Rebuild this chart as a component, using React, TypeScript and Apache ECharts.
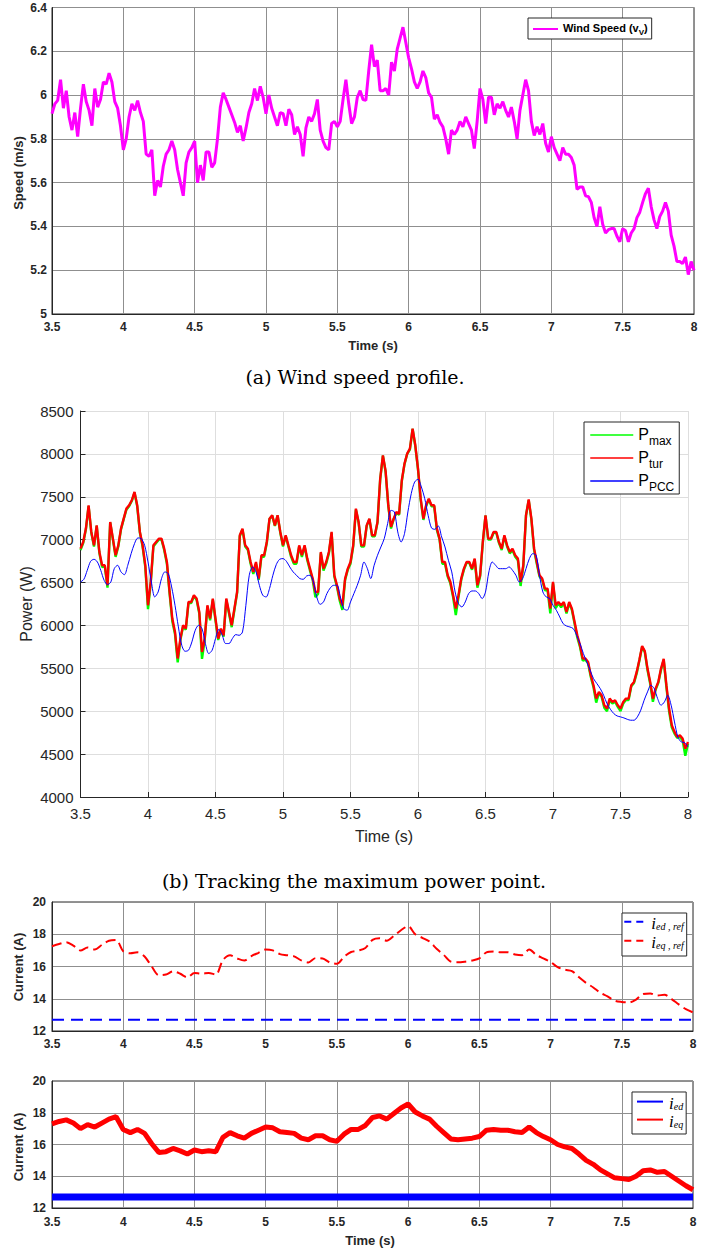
import React, { useEffect, useRef } from "react";
import * as echarts from "echarts";

const SANS = "'Liberation Sans', Arial, Helvetica, sans-serif";
const SERIF_CAP = "'DejaVu Serif', serif";
const SERIF_I = "'Liberation Serif', 'Times New Roman', serif";
const DARK = "#262626";

// ---------- data ----------
// wind speed, one sample every 0.02 s from 3.5 s
const windSpeed = [
  5.915, 5.96, 5.976, 6.07, 5.94, 6.02, 5.9, 5.84, 5.92, 5.81,
  5.94, 6.05, 5.97, 5.93, 5.86, 6.03, 5.945, 5.98, 6.06, 6.05,
  6.1, 6.06, 5.97, 5.94, 5.86, 5.75, 5.8, 5.9, 5.96, 5.93,
  5.975, 5.92, 5.88, 5.73, 5.72, 5.75, 5.54, 5.61, 5.58, 5.675,
  5.73, 5.75, 5.79, 5.75, 5.66, 5.6, 5.54, 5.69, 5.74, 5.76,
  5.79, 5.6, 5.68, 5.61, 5.74, 5.74, 5.67, 5.69, 5.8, 5.945,
  6.01, 5.98, 5.945, 5.91, 5.875, 5.83, 5.86, 5.79, 5.85, 5.92,
  5.96, 6.03, 5.975, 6.04, 5.99, 5.915, 6.0, 5.94, 5.9, 5.86,
  5.92, 5.915, 5.86, 5.935, 5.91, 5.82, 5.855, 5.82, 5.72, 5.85,
  5.9, 5.88, 5.915, 5.98, 5.84, 5.79, 5.76, 5.75, 5.87, 5.88,
  5.855, 5.88, 5.98, 6.07, 5.96, 5.87, 5.9, 5.99, 6.02, 5.98,
  5.976, 6.11, 6.23, 6.13, 6.16, 6.02, 6.02, 6.03, 6.0, 6.15,
  6.11, 6.21, 6.26, 6.31, 6.24, 6.17, 6.12, 6.06, 6.03, 6.06,
  6.11, 6.08, 6.01, 5.99, 5.89, 5.91, 5.875, 5.855, 5.8, 5.73,
  5.84, 5.82, 5.84, 5.88, 5.855, 5.9, 5.87, 5.84, 5.756, 5.88,
  6.03, 5.98, 5.87, 5.99, 5.99, 5.91, 5.96, 5.94, 5.97, 5.93,
  5.9, 5.945, 5.88, 5.8, 5.93, 6.0, 6.07, 6.02, 5.88, 5.815,
  5.855, 5.82, 5.87, 5.78, 5.74, 5.81, 5.76, 5.73, 5.7, 5.76,
  5.73, 5.73, 5.715, 5.68, 5.57, 5.58, 5.58, 5.54, 5.536, 5.51,
  5.44, 5.4, 5.49, 5.41, 5.37, 5.385, 5.39, 5.39, 5.355, 5.33,
  5.39, 5.38, 5.33, 5.37, 5.39, 5.44, 5.465, 5.51, 5.55, 5.575,
  5.49, 5.43, 5.39, 5.445, 5.47, 5.51, 5.47, 5.36, 5.31, 5.24,
  5.24, 5.23, 5.26, 5.18, 5.24, 5.2,
];

// turbine power, one sample every 0.02 s
const pTur = [
  6895, 6973, 7129, 7400, 7090, 6934, 7167, 6856, 6701, 6701,
  6468, 7206, 7012, 6818, 6934, 7129, 7245, 7362, 7400, 7459,
  7556, 7401, 7090, 6934, 6701, 6235, 6507, 6934, 6973, 7012,
  7012, 6895, 6740, 6390, 6080, 5924, 5615, 5847, 6002, 5963,
  6274, 6274, 6352, 6313, 6157, 5691, 5847, 6235, 6080, 6313,
  6080, 5847, 5963, 5885, 6313, 6157, 6002, 6196, 6390, 7051,
  7129, 6934, 6895, 6740, 6624, 6740, 6546, 6818, 6818, 6973,
  7245, 7284, 7167, 7284, 7090, 6934, 7051, 6934, 6818, 6740,
  6740, 6934, 6818, 6934, 6779, 6662, 6546, 6390, 6390, 6856,
  6662, 6740, 6856, 7090, 6585, 6468, 6313, 6235, 6546, 6662,
  6740, 6934, 7362, 7206, 6934, 6934, 7167, 7245, 7051, 7051,
  7206, 7711, 7983, 7800, 7401, 7148, 7245, 7323, 7300, 7692,
  7886, 8003, 8061, 8294, 8100, 7828, 7478, 7245, 7401, 7478,
  7401, 7401, 7129, 7012, 6740, 6740, 6585, 6507, 6352, 6196,
  6352, 6546, 6662, 6740, 6740, 6662, 6779, 6468, 6585, 6973,
  7284, 7012, 7012, 7090, 7090, 6973, 6895, 7051, 6934, 6856,
  6895, 6818, 6779, 6507, 6701, 7284, 7470, 7245, 6895, 6740,
  6585, 6546, 6429, 6429, 6196, 6507, 6235, 6274, 6235, 6274,
  6157, 6274, 6196, 6041, 5885, 5769, 5614, 5614, 5575, 5420,
  5303, 5147, 5225, 5186, 5070, 5031, 5147, 5108, 5128, 5070,
  5031, 5108, 5147, 5147, 5303, 5342, 5458, 5600, 5760, 5700,
  5497, 5342, 5147, 5264, 5342, 5497, 5610, 5303, 5031, 4836,
  4759, 4700, 4720, 4681, 4564, 4642,
];

// maximum available power, one sample every 0.02 s
const pMax = [
  6880, 6960, 7120, 7390, 7080, 6920, 7160, 6840, 6680, 6690,
  6440, 7200, 7000, 6800, 6920, 7120, 7240, 7350, 7390, 7450,
  7550, 7390, 7080, 6920, 6680, 6190, 6490, 6920, 6960, 7000,
  7000, 6880, 6720, 6370, 6050, 5900, 5570, 5830, 5990, 5950,
  6260, 6260, 6340, 6300, 6140, 5610, 5830, 6220, 6060, 6300,
  6060, 5830, 5950, 5870, 6300, 6140, 5980, 6180, 6380, 7040,
  7120, 6920, 6880, 6720, 6600, 6720, 6530, 6800, 6800, 6960,
  7240, 7280, 7160, 7280, 7080, 6920, 7040, 6920, 6800, 6720,
  6720, 6920, 6800, 6920, 6760, 6640, 6530, 6330, 6370, 6840,
  6640, 6720, 6840, 7080, 6570, 6450, 6290, 6180, 6530, 6650,
  6720, 6920, 7350, 7200, 6920, 6920, 7160, 7240, 7040, 7040,
  7200, 7700, 7980, 7790, 7390, 7130, 7240, 7310, 7290, 7680,
  7880, 8000, 8050, 8290, 8090, 7820, 7460, 7230, 7390, 7470,
  7390, 7390, 7110, 7000, 6720, 6720, 6570, 6490, 6330, 6120,
  6330, 6530, 6650, 6730, 6730, 6650, 6770, 6440, 6570, 6960,
  7280, 7000, 7000, 7080, 7080, 6960, 6880, 7040, 6920, 6840,
  6880, 6800, 6760, 6460, 6690, 7280, 7460, 7230, 6880, 6720,
  6570, 6530, 6410, 6410, 6140, 6490, 6200, 6260, 6210, 6260,
  6140, 6260, 6180, 6020, 5860, 5750, 5590, 5600, 5560, 5400,
  5280, 5100, 5210, 5170, 5040, 5000, 5130, 5090, 5110, 5050,
  5000, 5090, 5130, 5130, 5290, 5330, 5440, 5590, 5750, 5690,
  5480, 5320, 5110, 5250, 5330, 5480, 5600, 5280, 5000, 4810,
  4740, 4690, 4700, 4660, 4480, 4620,
];

// power at the PCC, one sample every 0.025 s
const pPcc = [
  6507, 6538, 6643, 6748, 6771, 6740, 6643, 6526, 6476, 6507,
  6662, 6701, 6624, 6592, 6701, 6837, 6954, 7020, 7012, 6934,
  6740, 6507, 6332, 6390, 6546, 6624, 6604, 6449, 6235, 5983,
  5769, 5699, 5711, 5808, 5944, 6002, 5963, 5789, 5672, 5711,
  5847, 5955, 5885, 5789, 5789, 5847, 5893, 5885, 5924, 6235,
  6585, 6682, 6624, 6468, 6352, 6332, 6429, 6585, 6709, 6771,
  6779, 6748, 6682, 6624, 6585, 6546, 6538, 6577, 6585, 6507,
  6332, 6246, 6274, 6371, 6437, 6468, 6468, 6332, 6196, 6177,
  6274, 6371, 6468, 6585, 6740, 6662, 6546, 6701, 6818, 6915,
  7012, 7187, 7342, 7323, 7090, 6973, 7070, 7323, 7537, 7672,
  7704, 7614, 7478, 7284, 7136, 7121, 7160, 7032, 6915, 6760,
  6624, 6390, 6254, 6216, 6274, 6371, 6402, 6402, 6371, 6313,
  6390, 6624, 6740, 6701, 6662, 6662, 6662, 6682, 6643, 6585,
  6507, 6546, 6662, 6779, 6837, 6818, 6585, 6390, 6332, 6313,
  6235, 6177, 6099, 6021, 5994, 5982, 5963, 5885, 5789, 5672,
  5575, 5478, 5380, 5322, 5264, 5186, 5089, 5023, 4973, 4945,
  4934, 4922, 4906, 4895, 4895, 4934, 5012, 5128, 5225, 5303,
  5264, 5147, 5070, 5108, 5186, 5070, 4875, 4700, 4642, 4634, 4584,
];

// currents, one sample every 0.05 s
const ieqRef = [
  17.26, 17.4, 17.5, 17.3, 16.99, 17.18, 17.05, 17.34, 17.6, 17.65,
  16.95, 16.82, 16.88, 16.62, 16.0, 15.46, 15.5, 15.7, 15.55, 15.33,
  15.6, 15.55, 15.6, 15.5, 16.4, 16.7, 16.5, 16.37, 16.65, 16.85,
  17.05, 17.0, 16.77, 16.7, 16.63, 16.38, 16.25, 16.52, 16.5, 16.25,
  16.17, 16.6, 16.9, 16.99, 17.15, 17.65, 17.75, 17.6, 17.9, 18.25,
  18.5, 18.0, 17.78, 17.55, 17.1, 16.72, 16.3, 16.26, 16.3, 16.37,
  16.5, 16.88, 16.93, 16.88, 16.88, 16.75, 16.7, 17.05, 16.72, 16.5,
  16.28, 15.96, 15.8, 15.72, 15.33, 14.98, 14.7, 14.37, 14.15, 13.88,
  13.8, 13.77, 13.95, 14.3, 14.33, 14.2, 14.25, 13.98, 13.65, 13.35, 13.15,
];
const ieqMeas = [
  17.3, 17.45, 17.55, 17.35, 17.0, 17.25, 17.1, 17.35, 17.6, 17.75,
  16.95, 16.75, 16.95, 16.7, 16.05, 15.5, 15.55, 15.75, 15.6, 15.4,
  15.65, 15.55, 15.6, 15.55, 16.45, 16.75, 16.55, 16.4, 16.7, 16.9,
  17.1, 17.05, 16.8, 16.75, 16.7, 16.4, 16.3, 16.55, 16.55, 16.3,
  16.2, 16.65, 16.95, 16.95, 17.2, 17.7, 17.8, 17.6, 17.95, 18.3,
  18.55, 18.05, 17.8, 17.6, 17.15, 16.75, 16.35, 16.3, 16.35, 16.4,
  16.5, 16.9, 16.95, 16.9, 16.9, 16.8, 16.75, 17.1, 16.75, 16.5,
  16.3, 16.0, 15.85, 15.75, 15.4, 15.0, 14.75, 14.4, 14.15, 13.9,
  13.85, 13.8, 14.0, 14.35, 14.4, 14.25, 14.3, 14.0, 13.7, 13.4, 13.15,
];
const iedRefTimes = [3.5, 8];
const iedRef = [12.7, 12.7];
const iedMeas = [12.7, 12.7];

const captionA = "(a) Wind speed profile.";
const captionB = "(b) Tracking the maximum power point.";

const sampleTimes = (n: number, step: number) =>
  Array.from({ length: n }, (_, i) => Math.round((3.5 + i * step) * 10000) / 10000);
const pairs = (times: number[], vals: number[]) => vals.map((v, i) => [times[i], v]);

const windTimes = sampleTimes(windSpeed.length, 0.02);
const pTimes = sampleTimes(pTur.length, 0.02);
const pccTimes = sampleTimes(pPcc.length, 0.025);
const iTimes = sampleTimes(ieqRef.length, 0.05);

function boldAxisLabel(margin: number) {
  return { color: DARK, fontFamily: SANS, fontWeight: "bold", fontSize: 12, margin };
}

const centered = { align: "center", verticalAlign: "middle", textAlign: "center", textVerticalAlign: "middle" };

export default function App() {
  const ref = useRef<HTMLDivElement>(null);
  useEffect(() => {
    if (!ref.current) return;
    const chart = echarts.init(ref.current, undefined, { renderer: "svg" });
    const gridLineDark = { show: true, lineStyle: { color: "#8f8f8f", width: 1 } };
    const gridLineLight = { show: true, lineStyle: { color: "#dedede", width: 1 } };
    const xBase = { type: "value", min: 3.5, max: 8, interval: 0.5 };
    const hideSymbol = { opacity: 0 };

    const option: any = {
      animation: false,
      backgroundColor: "#ffffff",
      grid: [
        { left: 52, top: 7.5, width: 642, height: 306.5, show: true, borderColor: DARK, borderWidth: 1 },
        { left: 80.5, top: 411, width: 607.5, height: 386 },
        { left: 52, top: 902, width: 641, height: 129, show: true, borderColor: DARK, borderWidth: 1 },
        { left: 52, top: 1081, width: 641, height: 127, show: true, borderColor: DARK, borderWidth: 1 },
      ],
      xAxis: [
        { ...xBase, gridIndex: 0, axisLine: { lineStyle: { color: DARK } }, axisTick: { show: false }, axisLabel: boldAxisLabel(7), splitLine: gridLineDark },
        { ...xBase, gridIndex: 1, axisLine: { lineStyle: { color: DARK } }, axisTick: { show: true, inside: true, length: 5, lineStyle: { color: DARK } }, axisLabel: { color: DARK, fontFamily: SANS, fontSize: 15, margin: 9 }, splitLine: gridLineLight },
        { ...xBase, gridIndex: 2, axisLine: { lineStyle: { color: DARK } }, axisTick: { show: false }, axisLabel: boldAxisLabel(7), splitLine: gridLineDark },
        { ...xBase, gridIndex: 3, axisLine: { lineStyle: { color: DARK } }, axisTick: { show: false }, axisLabel: boldAxisLabel(8), splitLine: gridLineDark },
      ],
      yAxis: [
        { type: "value", gridIndex: 0, min: 5, max: 6.4, interval: 0.2, axisLine: { show: true, lineStyle: { color: DARK } }, axisTick: { show: false }, axisLabel: boldAxisLabel(5), splitLine: gridLineDark },
        { type: "value", gridIndex: 1, min: 4000, max: 8500, interval: 500, axisLine: { show: true, lineStyle: { color: DARK } }, axisTick: { show: true, inside: true, length: 5, lineStyle: { color: DARK } }, axisLabel: { color: DARK, fontFamily: SANS, fontSize: 15, margin: 7, formatter: (v: number) => String(v) }, splitLine: gridLineLight },
        { type: "value", gridIndex: 2, min: 12, max: 20, interval: 2, axisLine: { show: true, lineStyle: { color: DARK } }, axisTick: { show: false }, axisLabel: boldAxisLabel(6), splitLine: gridLineDark },
        { type: "value", gridIndex: 3, min: 12, max: 20, interval: 2, axisLine: { show: true, lineStyle: { color: DARK } }, axisTick: { show: false }, axisLabel: boldAxisLabel(6), splitLine: gridLineDark },
      ],
      legend: [
        {
          orient: "vertical", left: 528, top: 18, data: ["Wind Speed"], selectedMode: false,
          itemWidth: 25, itemHeight: 14, itemGap: 0, padding: [4, 4, 3, 4],
          borderColor: DARK, borderWidth: 1, backgroundColor: "#fff",
          lineStyle: { width: 2 }, itemStyle: hideSymbol,
          formatter: () => "{m|Wind Speed (v}{s|V}{m|)}",
          textStyle: {
            rich: {
              m: { fontFamily: SANS, fontWeight: "bold", fontSize: 11, lineHeight: 14, verticalAlign: "top", color: "#000" },
              s: { fontFamily: SANS, fontWeight: "bold", fontSize: 8, lineHeight: 9, padding: [6, 0, 0, 0], verticalAlign: "top", color: "#000" },
            },
          },
        },
        {
          orient: "vertical", left: 584, top: 422, data: ["Pmax", "Ptur", "PPCC"], selectedMode: false,
          itemWidth: 43, itemHeight: 14, itemGap: 2, padding: [4, 5, 1, 5.5],
          borderColor: DARK, borderWidth: 1, backgroundColor: "#fff",
          lineStyle: { width: 1.5 }, itemStyle: hideSymbol,
          formatter: (name: string) => {
            const sub: Record<string, string> = { Pmax: "max", Ptur: "tur", PPCC: "PCC" };
            return `{p|P}{s|${sub[name]}}`;
          },
          textStyle: {
            rich: {
              p: { fontFamily: SANS, fontSize: 16, lineHeight: 18, verticalAlign: "top", color: "#000" },
              s: { fontFamily: SANS, fontSize: 12, lineHeight: 14, padding: [9, 0, 0, 0], verticalAlign: "top", color: "#000" },
            },
          },
        },
        {
          orient: "vertical", left: 622, top: 913, data: ["ied_ref", "ieq_ref"], selectedMode: false,
          itemWidth: 19, itemHeight: 10, itemGap: 2, padding: [1.7, 3, 5.3, 1.3],
          borderColor: DARK, borderWidth: 1, backgroundColor: "#fff",
          lineStyle: { width: 2, type: [7, 5] }, itemStyle: hideSymbol,
          formatter: (name: string) => (name === "ied_ref" ? "{i|i}{s|ed , ref}" : "{i|i}{s|eq , ref}"),
          textStyle: {
            rich: {
              i: { fontFamily: SERIF_I, fontStyle: "italic", fontSize: 17, lineHeight: 14, padding: [0, 0, 0, 3], verticalAlign: "top", color: "#000" },
              s: { fontFamily: SERIF_I, fontStyle: "italic", fontSize: 10, lineHeight: 11, padding: [7, 0, 0, 0], verticalAlign: "top", color: "#000" },
            },
          },
        },
        {
          orient: "vertical", left: 632, top: 1092, data: ["ied", "ieq"], selectedMode: false,
          itemWidth: 26, itemHeight: 10, itemGap: 1, padding: [2.6, 3, 4.4, 4],
          borderColor: DARK, borderWidth: 1, backgroundColor: "#fff",
          lineStyle: { width: 2 }, itemStyle: hideSymbol,
          formatter: (name: string) => (name === "ied" ? "{i|i}{s|ed}" : "{i|i}{s|eq}"),
          textStyle: {
            rich: {
              i: { fontFamily: SERIF_I, fontStyle: "italic", fontSize: 17, lineHeight: 14, padding: [0, 0, 0, 1], verticalAlign: "top", color: "#000" },
              s: { fontFamily: SERIF_I, fontStyle: "italic", fontSize: 10, lineHeight: 11, padding: [7, 0, 0, 0], verticalAlign: "top", color: "#000" },
            },
          },
        },
      ],
      series: [
        { name: "Wind Speed", type: "line", xAxisIndex: 0, yAxisIndex: 0, symbol: "none", data: pairs(windTimes, windSpeed), lineStyle: { color: "#ff00ff", width: 3 }, itemStyle: { color: "#ff00ff" } },
        { name: "Pmax", type: "line", xAxisIndex: 1, yAxisIndex: 1, symbol: "none", data: pairs(pTimes, pMax), lineStyle: { color: "#00ff00", width: 2.4 }, itemStyle: { color: "#00ff00" } },
        { name: "Ptur", type: "line", xAxisIndex: 1, yAxisIndex: 1, symbol: "none", data: pairs(pTimes, pTur), lineStyle: { color: "#ff0000", width: 2.4 }, itemStyle: { color: "#ff0000" } },
        { name: "PPCC", type: "line", xAxisIndex: 1, yAxisIndex: 1, symbol: "none", smooth: 0.3, data: pairs(pccTimes, pPcc), lineStyle: { color: "#0000ff", width: 1 }, itemStyle: { color: "#0000ff" } },
        { name: "ied_ref", type: "line", xAxisIndex: 2, yAxisIndex: 2, symbol: "none", data: pairs(iedRefTimes, iedRef), lineStyle: { color: "#0000ff", width: 2, type: [12, 7] }, itemStyle: { color: "#0000ff" } },
        { name: "ieq_ref", type: "line", xAxisIndex: 2, yAxisIndex: 2, symbol: "none", smooth: 0.3, data: pairs(iTimes, ieqRef), lineStyle: { color: "#ff0000", width: 2, type: [10, 5] }, itemStyle: { color: "#ff0000" } },
        { name: "ied", type: "line", xAxisIndex: 3, yAxisIndex: 3, symbol: "none", data: pairs(iedRefTimes, iedMeas), lineStyle: { color: "#0000ff", width: 7 }, itemStyle: { color: "#0000ff" } },
        { name: "ieq", type: "line", xAxisIndex: 3, yAxisIndex: 3, symbol: "none", data: pairs(iTimes, ieqMeas), lineStyle: { color: "#ff0000", width: 5 }, itemStyle: { color: "#ff0000" } },
      ],
      graphic: [
        { type: "text", x: 18, y: 173, rotation: Math.PI / 2, style: { text: "Speed (m/s)", fontFamily: SANS, fontWeight: "bold", fontSize: 13, fill: DARK, ...centered } },
        { type: "text", x: 373, y: 345, style: { text: "Time (s)", fontFamily: SANS, fontWeight: "bold", fontSize: 13, fill: DARK, ...centered } },
        { type: "text", x: 355, y: 377, style: { text: captionA, fontFamily: SERIF_CAP, fontSize: 19, fill: "#000", ...centered } },
        { type: "text", x: 26, y: 604, rotation: Math.PI / 2, style: { text: "Power (W)", fontFamily: SANS, fontSize: 16, fill: DARK, ...centered } },
        { type: "text", x: 384, y: 836, style: { text: "Time (s)", fontFamily: SANS, fontSize: 16, fill: DARK, ...centered } },
        { type: "text", x: 354, y: 881, style: { text: captionB, fontFamily: SERIF_CAP, fontSize: 19, fill: "#000", ...centered } },
        { type: "text", x: 18, y: 967, rotation: Math.PI / 2, style: { text: "Current (A)", fontFamily: SANS, fontWeight: "bold", fontSize: 13, fill: DARK, ...centered } },
        { type: "text", x: 18, y: 1147, rotation: Math.PI / 2, style: { text: "Current (A)", fontFamily: SANS, fontWeight: "bold", fontSize: 13, fill: DARK, ...centered } },
        { type: "text", x: 370, y: 1240, style: { text: "Time (s)", fontFamily: SANS, fontWeight: "bold", fontSize: 13, fill: DARK, ...centered } },
      ],
    };
    chart.setOption(option);
    return () => chart.dispose();
  }, []);

  return (
    <div
      ref={ref}
      style={{ position: "absolute", left: 0, top: 0, width: 709, height: 1250, background: "#fff" }}
    />
  );
}
